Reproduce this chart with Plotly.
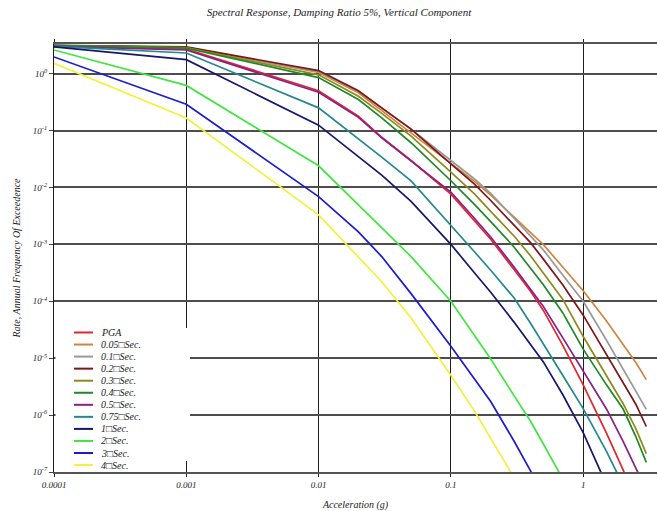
import plotly.graph_objects as go

# ---------------- data ----------------
ACC = [0.0001, 0.001, 0.01, 0.02, 0.03, 0.05, 0.1, 0.15, 0.2, 0.3, 0.4, 0.5, 0.7, 1.0, 1.5, 2.0, 2.5, 3.0]

SERIES_NAMES = ["PGA", "0.05\u25a1Sec.", "0.1\u25a1Sec.", "0.2\u25a1Sec.", "0.3\u25a1Sec.", "0.4\u25a1Sec.",
                "0.5\u25a1Sec.", "0.75\u25a1Sec.", "1\u25a1Sec.", "2\u25a1Sec.", "3\u25a1Sec.", "4\u25a1Sec."]

PGA = [3.0, 2.7, 0.50, 0.178, 0.076, 0.0297, 7.6e-3, 2.6e-3, 1.23e-3, 3.6e-4, 1.5e-4, 6.9e-5, 1.7e-5, 3.4e-6, 4.8e-7, 1.1e-7, 3.3e-8, 1.3e-8]
S005 = [3.1, 2.9, 1.05, 0.46, 0.224, 0.091, 0.026, 0.0129, 7.3e-3, 3.0e-3, 1.61e-3, 9.9e-4, 4.0e-4, 1.53e-4, 4.5e-5, 1.77e-5, 8.4e-6, 4.2e-6]
S01 = [3.1, 2.9, 1.08, 0.49, 0.248, 0.106, 0.0297, 0.0142, 7.9e-3, 2.9e-3, 1.44e-3, 8.0e-4, 2.9e-4, 1.0e-4, 2.06e-5, 6.6e-6, 2.6e-6, 1.26e-6]
S02 = [3.15, 2.95, 1.13, 0.50, 0.25, 0.106, 0.026, 0.0115, 5.9e-3, 2.15e-3, 1.07e-3, 5.5e-4, 1.95e-4, 5.7e-5, 1.13e-5, 3.7e-6, 1.55e-6, 6.3e-7]
S03 = [3.1, 2.85, 0.95, 0.40, 0.20, 0.080, 0.0186, 7.8e-3, 3.8e-3, 1.4e-3, 6.3e-4, 3.1e-4, 1.09e-4, 2.4e-5, 4.8e-6, 1.6e-6, 5.8e-7, 2.1e-7]
S04 = [3.1, 2.8, 0.85, 0.35, 0.167, 0.061, 0.0131, 5.1e-3, 2.5e-3, 9.0e-4, 3.8e-4, 1.95e-4, 6.3e-5, 1.44e-5, 3.4e-6, 1.29e-6, 4.2e-7, 1.48e-7]
S05 = [3.0, 2.6, 0.47, 0.17, 0.074, 0.0295, 8.3e-3, 2.9e-3, 1.35e-3, 4.0e-4, 1.67e-4, 8.1e-5, 2.3e-5, 5.9e-6, 1.28e-6, 3.5e-7, 1.22e-7, 4.8e-8]
S075 = [3.0, 2.3, 0.25, 0.072, 0.034, 0.013, 2.2e-3, 7.5e-4, 3.5e-4, 1.15e-4, 4.1e-5, 1.8e-5, 5.0e-6, 1.3e-6, 2.3e-7, 5.9e-8, 2.0e-8, 8e-9]
S1 = [2.95, 1.76, 0.124, 0.034, 0.0165, 5.7e-3, 1.0e-3, 3.2e-4, 1.44e-4, 4.3e-5, 1.77e-5, 8.6e-6, 2.3e-6, 4.9e-7, 6e-8, 1.3e-8, None, None]
S2 = [2.6, 0.62, 0.024, 5.0e-3, 2.0e-3, 6.1e-4, 1.0e-4, 2.6e-5, 9.7e-6, 2.2e-6, 7.8e-7, 3.1e-7, 7.6e-8, None, None, None, None, None]
S3 = [1.96, 0.29, 6.9e-3, 1.66e-3, 6.1e-4, 1.36e-4, 1.62e-5, 4.5e-6, 1.73e-6, 3.5e-7, 1.05e-7, 3.6e-8, None, None, None, None, None, None]
S4 = [1.51, 0.166, 3.3e-3, 6.1e-4, 2.2e-4, 5.1e-5, 5.0e-6, 1.2e-6, 4.0e-7, 8e-8, None, None, None, None, None, None, None, None]

ALL_SERIES = [PGA, S005, S01, S02, S03, S04, S05, S075, S1, S2, S3, S4]

X_TICKS = [0.0001, 0.001, 0.01, 0.1, 1]
X_TICK_TEXT = ["0.0001", "0.001", "0.01", "0.1", "1"]
Y_TICKS = [1e-7, 1e-6, 1e-5, 1e-4, 1e-3, 1e-2, 1e-1, 1e0]
Y_TICK_TEXT = ["10<sup>-7</sup>", "10<sup>-6</sup>", "10<sup>-5</sup>", "10<sup>-4</sup>",
               "10<sup>-3</sup>", "10<sup>-2</sup>", "10<sup>-1</sup>", "10<sup>0</sup>"]

# ---------------- styling ----------------
COLORS = ["#e3262c", "#d0843f", "#999999", "#7e1616", "#8f8a1c", "#1f8a25",
          "#8a1f8a", "#23898c", "#16166e", "#40e640", "#1c1ccc", "#f4f03c"]
FONT = "Liberation Serif"

W, H = 658, 511
ML, MR, MT, MB = 54, 1, 44, 39
PW, PH = W - ML - MR, H - MT - MB

fig = go.Figure()
for name, ys, col in zip(SERIES_NAMES, ALL_SERIES, COLORS):
    fig.add_trace(go.Scatter(x=ACC, y=ys, mode="lines", name=name,
                             line=dict(color=col, width=1.7), showlegend=False,
                             connectgaps=False))

# legend drawn by hand (Plotly's native legend rows are taller than the original)
def px2paper_x(px):
    return (px - ML) / PW

def px2paper_y(py):
    return (H - MB - py) / PH

shapes = [dict(type="rect", xref="paper", yref="paper", layer="above",
               x0=px2paper_x(55.5), x1=px2paper_x(190), y0=px2paper_y(461), y1=px2paper_y(328),
               fillcolor="white", line=dict(width=0))]
annotations = []
for i, (name, col) in enumerate(zip(SERIES_NAMES, COLORS)):
    py = 332.5 + 12.05 * i
    shapes.append(dict(type="line", xref="paper", yref="paper", layer="above",
                       x0=px2paper_x(74), x1=px2paper_x(93), y0=px2paper_y(py), y1=px2paper_y(py),
                       line=dict(color=col, width=2)))
    annotations.append(dict(xref="paper", yref="paper", x=px2paper_x(99), y=px2paper_y(py),
                            xanchor="left", yanchor="middle", text=name, showarrow=False,
                            font=dict(family=FONT, size=10, color="#222", style="italic")))

fig.update_layout(
    width=W, height=H,
    margin=dict(l=ML, r=MR, t=MT, b=MB),
    paper_bgcolor="white", plot_bgcolor="white",
    title=dict(text="Spectral Response, Damping Ratio 5%, Vertical Component",
               x=(339) / W, xanchor="center", y=1 - 12 / H, yanchor="middle", yref="container",
               font=dict(family=FONT, size=11, color="#222", style="italic")),
    shapes=shapes, annotations=annotations,
    xaxis=dict(type="log", range=[-4, 0.558], tickvals=X_TICKS, ticktext=X_TICK_TEXT,
               showgrid=True, gridcolor="#1e1e1e", gridwidth=1.3,
               showline=True, linecolor="#555", linewidth=1.5, mirror="ticks",
               ticks="outside", ticklen=3, tickcolor="#1e1e1e", tickwidth=1.2,
               tickfont=dict(family=FONT, size=9, color="#222", style="italic"),
               zeroline=False,
               title=dict(text="Acceleration (g)", standoff=14,
                          font=dict(family=FONT, size=10, color="#222", style="italic"))),
    yaxis=dict(type="log", range=[-7, 0.52], tickvals=Y_TICKS, ticktext=Y_TICK_TEXT,
               showgrid=True, gridcolor="#4d4d4d", gridwidth=1.5,
               showline=True, linecolor="#1e1e1e", linewidth=1.3,
               ticks="outside", ticklen=4, tickcolor="#444", tickwidth=1.2,
               tickfont=dict(family=FONT, size=9, color="#222", style="italic"),
               zeroline=False,
               title=dict(text="Rate, Annual Frequency Of Exceedence", standoff=10,
                          font=dict(family=FONT, size=10, color="#222", style="italic"))),
)

fig.write_html("out.html")
